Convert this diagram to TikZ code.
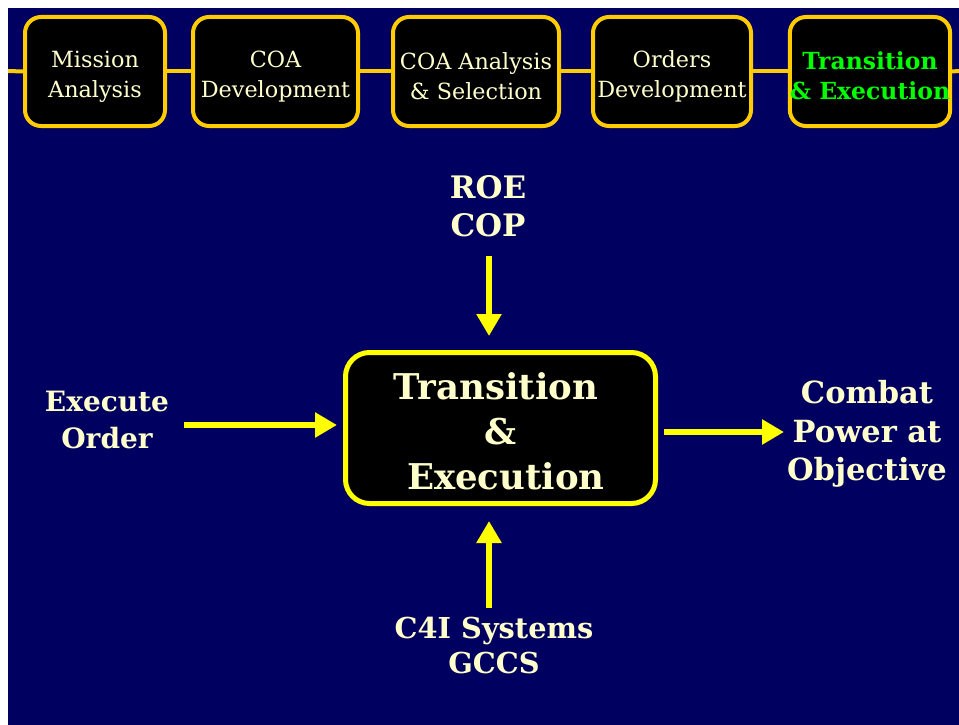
\documentclass[tikz,border=0pt]{standalone}
\usepackage{fontspec}
\setmainfont{DejaVu Serif}
\usetikzlibrary{arrows.meta}
\definecolor{navy}{HTML}{000060}
\definecolor{cream}{HTML}{FFFFCC}
\definecolor{gold}{HTML}{FFCC00}
\definecolor{brightyellow}{HTML}{FFFF00}
\definecolor{phasegreen}{HTML}{00FF00}
% a strut that lowers a two-line caption inside its box
\newcommand{\lowerstrut}{\rule{0pt}{26pt}}
\begin{document}
\begin{tikzpicture}[x=1pt,y=-1pt,
  phase/.style={draw=gold, line width=4pt, fill=black, rounded corners=16pt,
    minimum height=109pt, inner sep=0pt, text=cream, align=center,
    font=\fontsize{22.3}{30}\selectfont},
  current/.style={phase, text=phasegreen, font=\fontsize{23.5}{30}\selectfont\bfseries},
  mainbox/.style={draw=brightyellow, line width=5pt, fill=black, rounded corners=24pt,
    minimum width=310pt, minimum height=151pt, inner sep=0pt, text=cream, align=center,
    font=\fontsize{35.5}{45}\selectfont\bfseries},
  label/.style={text=cream, align=center, inner sep=0pt},
  timeline/.style={draw=gold, line width=4pt},
  flow/.style={draw=brightyellow, line width=6pt,
    -{Triangle[length=22pt,width=24pt]}}
]
\useasboundingbox (0,0) rectangle (959,725);
\fill[navy] (8,8) rectangle (959,725);

% phase boxes along the top
\node[phase, minimum width=140pt] (p1) at (95,71.5) {\lowerstrut Mission\\Analysis};
\node[phase, minimum width=165pt] (p2) at (275.5,71.5) {\lowerstrut COA\\Development};
\node[phase, minimum width=166pt] (p3) at (476,71.5) {\lowerstrut COA Analysis\\\& Selection};
\node[phase, minimum width=158pt] (p4) at (672,71.5) {\lowerstrut Orders\\Development};
\node[current, minimum width=154pt] (p5) at (870,71.5) {\lowerstrut Transition\\\& Execution};

% timeline joining the phases
\coordinate (tl) at (8,71);
\coordinate (tr) at (959,71);
\draw[timeline] (tl) -- (p1.west);
\draw[timeline] (p1.east) -- (p2.west);
\draw[timeline] (p2.east) -- (p3.west);
\draw[timeline] (p3.east) -- (p4.west);
\draw[timeline] (p4.east) -- (p5.west);
\draw[timeline] (p5.east) -- (tr);

% central process
\node[mainbox] (main) at (500.5,428)
  {\rule{0pt}{33pt}Transition\hspace*{9pt}\\\&\\\hspace*{11pt}Execution};

% inputs and output
\node[label, font=\fontsize{31}{38}\selectfont\bfseries] (roe) at (488,206) {ROE\\COP};
\node[label, font=\fontsize{28}{37}\selectfont\bfseries] (exe) at (107,420) {Execute\\Order};
\node[label, font=\fontsize{30.5}{38.5}\selectfont\bfseries] (cp) at (867,434) {Combat\\Power at\\Objective};
\node[label, font=\fontsize{28.8}{35}\selectfont\bfseries] (c4i) at (494,646) {C4I Systems\\GCCS};

\coordinate (roeTail) at (489,256);
\coordinate (exeTail) at (184,425);
\coordinate (c4iTail) at (489,608);
\draw[flow, shorten >=14pt] (roeTail) -- (roeTail |- main.north);
\draw[flow, shorten >=6pt] (exeTail) -- (exeTail -| main.west);
\draw[flow, shorten >=15pt] (c4iTail) -- (c4iTail |- main.south);
\coordinate (cpTip) at (784,432);
\draw[flow, shorten <=6pt] (main.east |- cpTip) -- (cpTip);
\end{tikzpicture}
\end{document}
